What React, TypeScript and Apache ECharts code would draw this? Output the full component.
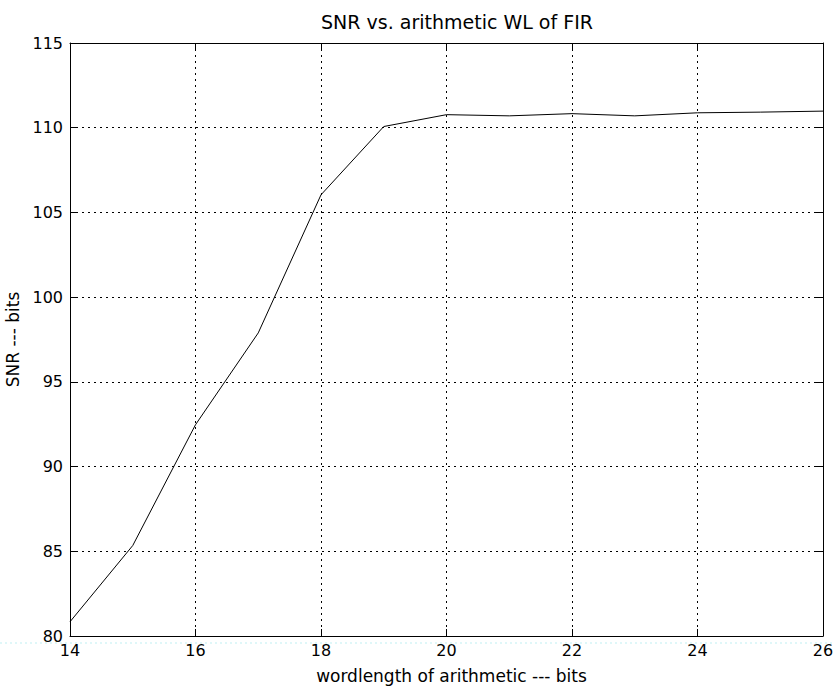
import React, { useEffect, useRef } from "react";
import * as echarts from "echarts";

const wordlengths = [14, 15, 16, 17, 18, 19, 20, 21, 22, 23, 24, 25, 26];
const snrValues = [80.84, 85.34, 92.47, 97.89, 106.04, 110.07, 110.77, 110.7, 110.83, 110.7, 110.88, 110.92, 110.98];
const titleText = "SNR vs. arithmetic WL of FIR";
const xName = "wordlength of arithmetic --- bits";
const yName = "SNR --- bits";

const FONT = "'DejaVu Sans', 'Liberation Sans', Arial, sans-serif";

export default function App() {
  const ref = useRef<HTMLDivElement>(null);
  useEffect(() => {
    if (!ref.current) return;
    const chart = echarts.init(ref.current, undefined, { renderer: "svg" });
    const grid = { left: 70, right: 12, top: 43, bottom: 51, containLabel: false, outerBoundsMode: "none" };
    const splitLine = { show: true, lineStyle: { color: "#000", width: 1, type: [2, 4] as any } };
    const axisLine = { show: true, lineStyle: { color: "#000", width: 1 } };
    const tick = { show: true, inside: true, length: 7, lineStyle: { color: "#000" } };
    chart.setOption({
      animation: false,
      backgroundColor: "#fff",
      title: {
        text: titleText,
        left: 452,
        textAlign: "center",
        top: 7,
        textStyle: { fontFamily: FONT, fontSize: 19, fontWeight: "normal", color: "#000" },
      },
      grid,
      xAxis: [
        {
          type: "value",
          min: 14,
          max: 26,
          interval: 2,
          name: xName,
          nameLocation: "middle",
          nameGap: 31,
          nameTextStyle: { fontFamily: FONT, fontSize: 17, color: "#000", padding: [0, 0, 0, 10] },
          axisLine,
          axisTick: tick,
          axisLabel: { fontFamily: FONT, fontSize: 16, color: "#000", margin: 6 },
          splitLine,
        },
        {
          type: "value",
          position: "top",
          min: 14,
          max: 26,
          interval: 2,
          axisLine,
          axisTick: tick,
          axisLabel: { show: false },
          splitLine: { show: false },
        },
      ],
      yAxis: [
        {
          type: "value",
          min: 80,
          max: 115,
          interval: 5,
          name: yName,
          nameLocation: "middle",
          nameGap: 44,
          nameTextStyle: { fontFamily: FONT, fontSize: 17, color: "#000" },
          axisLine,
          axisTick: tick,
          axisLabel: { fontFamily: FONT, fontSize: 16, color: "#000", margin: 7 },
          splitLine,
        },
        {
          type: "value",
          position: "right",
          min: 80,
          max: 115,
          interval: 5,
          axisLine,
          axisTick: tick,
          axisLabel: { show: false },
          splitLine: { show: false },
        },
      ],
      series: [
        {
          type: "line",
          data: wordlengths.map((w, i) => [w, snrValues[i]]),
          showSymbol: false,
          symbol: "none",
          lineStyle: { color: "#000", width: 1 },
          z: 5,
        },
      ],
      graphic: [
        {
          type: "line",
          shape: { x1: 0, y1: 643, x2: 835, y2: 643 },
          style: { stroke: "#bfeff2", lineWidth: 1, lineDash: [2, 3] },
          silent: true,
        },
      ],
    });
    return () => chart.dispose();
  }, []);
  return <div ref={ref} style={{ width: 835, height: 687, position: "absolute", left: 0, top: 0 }} />;
}
